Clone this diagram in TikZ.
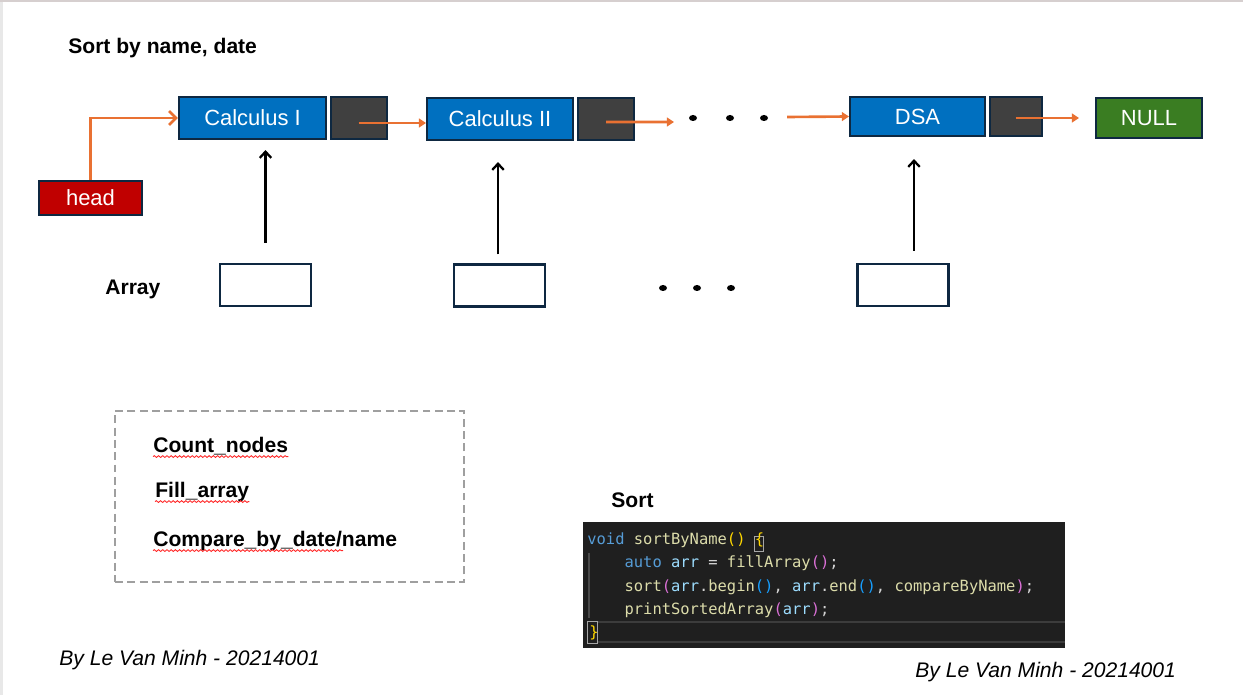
\documentclass[tikz,border=0pt]{standalone}
\usepackage{fontspec}
\setmainfont{Liberation Sans}
\newfontfamily\codefont{DejaVu Sans Mono}
\usepackage{xcolor}
\usetikzlibrary{positioning}
\usetikzlibrary{arrows.meta}
\usetikzlibrary{decorations.pathmorphing}

\definecolor{edge}{HTML}{0E2841}
\definecolor{course}{HTML}{0070C0}
\definecolor{pointer}{HTML}{404040}
\definecolor{headred}{HTML}{C00000}
\definecolor{nullgreen}{HTML}{3A7D22}
\definecolor{link}{HTML}{E97132}
\definecolor{codebg}{HTML}{1F1F1F}
\definecolor{kw}{HTML}{569CD6}
\definecolor{fn}{HTML}{DCDCAA}
\definecolor{var}{HTML}{9CDCFE}
\definecolor{txt}{HTML}{D4D4D4}
\definecolor{brone}{HTML}{FFD700}
\definecolor{brtwo}{HTML}{DA70D6}
\definecolor{brthree}{HTML}{179FFF}

\begin{document}
\begin{tikzpicture}[x=0.02cm, y=-0.02cm,
                    squarednode/.style={rectangle, draw=edge, line width=1.2pt, inner sep=0pt, text=white, font=\fontsize{12.5}{14}\selectfont},
                    datanode/.style={squarednode, fill=course, minimum width=2.94cm, minimum height=0.84cm},
                    ptrnode/.style={squarednode, fill=pointer, minimum width=1.12cm, minimum height=0.84cm},
                    arraynode/.style={rectangle, draw=edge, line width=1.2pt, fill=white, minimum width=1.82cm, minimum height=0.84cm},
                    boldtext/.style={inner sep=0pt, anchor=base west, font=\bfseries\fontsize{12}{14}\selectfont},
                    codeline/.style={inner sep=0pt, anchor=base west, text=txt, font=\codefont\fontsize{8.8}{10}\selectfont},
                    signtext/.style={inner sep=0pt, anchor=base west, font=\itshape\fontsize{12}{14}\selectfont},
                    headlink/.style={draw=link, line width=1.5pt, -{Straight Barb[length=4pt,width=8pt]}},
                    nextlink/.style={draw=link, line width=1.5pt, -{Triangle[length=4pt,width=5pt]}},
                    uparrow/.style={line width=1.3pt, -{Straight Barb[length=3.5pt,width=6.5pt]}},
                    spellwave/.style={draw=red!85!white, line width=0.5pt, decorate, decoration={snake, amplitude=0.5pt, segment length=2.4pt}}
                   ]
\useasboundingbox (0,0) rectangle (1243,695);
\fill[gray!18] (0,0) rectangle (3,695);
\fill[red!8!gray!35] (0,0) rectangle (1243,2);

%Nodes
\node[boldtext] (title) at (68,54) {Sort by name, date};
\node[squarednode, fill=headred, minimum width=2.06cm, minimum height=0.68cm] (head) at (90.5,198) {head};
\node[datanode] (calc1) at (252.5,118) {Calculus I};
\node[ptrnode] (ptr1) [right=0.05cm of calc1] {};
\node[datanode, minimum width=2.92cm] (calc2) at (500,119) {Calculus II};
\node[ptrnode] (ptr2) [right=0.06cm of calc2] {};
\node[datanode, minimum width=2.7cm, minimum height=0.78cm] (dsa) at (917.5,116.5) {DSA};
\node[ptrnode, minimum width=1.04cm, minimum height=0.78cm] (ptr3) [right=0.05cm of dsa] {};
\node[squarednode, fill=nullgreen, minimum width=2.12cm, minimum height=0.8cm] (null) at (1149,118) {NULL};

\node[boldtext] (arraylabel) at (105,295) {Array};
\node[arraynode] (arr1) at (265.5,285) {};
\node[arraynode] (arr2) at (499.5,285.5) {};
\node[arraynode] (arr3) at (903,285) {};

\foreach \x in {693,730,764} \fill (\x,118) ellipse [x radius=0.08cm, y radius=0.06cm];
\foreach \x in {663,697,731} \fill (\x,288) ellipse [x radius=0.08cm, y radius=0.06cm];

\coordinate (p1) at ([yshift=-0.1cm]ptr1.center);
\coordinate (p2) at ([yshift=-0.06cm]ptr2.center);
\coordinate (gap1) at (674,122);
\coordinate (gap2) at (787,117);

% %Lines
\draw[headlink] (head.north) |- (calc1.west);
\draw[nextlink] (p1) -- (p1 -| calc2.west);
\draw[nextlink] (p2) -- (gap1);
\draw[nextlink] (gap2) -- (dsa.west);
\draw[nextlink, shorten >=0.32cm] (ptr3.center |- null.west) -- (null.west);

\draw[uparrow, shorten <=0.4cm, shorten >=0.2cm] (arr1.north) -- (arr1.north |- calc1.south);
\draw[uparrow, shorten <=0.18cm, shorten >=0.42cm] ([xshift=-0.03cm]arr2.north) -- ([xshift=-0.03cm]arr2.north |- calc2.south);
\draw[uparrow, shorten <=0.24cm, shorten >=0.44cm] ([xshift=0.22cm]arr3.north) -- ([xshift=0.22cm]arr3.north |- dsa.south);

%Helper box
\node[draw=gray!75, dashed, dash pattern=on 4.5pt off 2.5pt, line width=1.1pt, minimum width=6.98cm, minimum height=3.42cm] (helpers) at (289.5,496.5) {};
\node[boldtext] (count) at (153,452) {Count\_nodes};
\node[boldtext] (fill) at (155,497) {Fill\_array};
\node[boldtext] (compare) at (153,546) {Compare\_by\_date/name};
\draw[spellwave] ([yshift=-2.6pt]count.base west) -- ([yshift=-2.6pt]count.base east);
\draw[spellwave] ([yshift=-2.6pt]fill.base west) -- ([yshift=-2.6pt]fill.base east);
\draw[spellwave] ([yshift=-2.6pt]compare.base west) -- ++(190,0);

%Code
\node[boldtext] (sortlabel) at (611,507) {Sort};
\node[fill=codebg, minimum width=9.64cm, minimum height=2.52cm, inner sep=0pt] (code) at (824,585) {};
\draw[gray!30!codebg, line width=0.8pt] (598,622) -- (1065,622);
\draw[gray!30!codebg, line width=0.8pt] (598,642) -- (1065,642);
\draw[gray!45!codebg, line width=0.6pt] (589,553) -- (589,618);
\draw[gray!70, line width=0.5pt] (754,536) rectangle (763,551);
\draw[gray!70, line width=0.5pt] (587,621) rectangle (597,643);
\node[codeline] (src1) at (587,544) {\textcolor{kw}{void} \textcolor{fn}{sortByName}\textcolor{brone}{()} \textcolor{brone}{\{}};
\node[codeline] (src2) at (587,567) {\phantom{0000}\textcolor{kw}{auto} \textcolor{var}{arr} = \textcolor{fn}{fillArray}\textcolor{brtwo}{()};};
\node[codeline] (src3) at (587,591) {\phantom{0000}\textcolor{fn}{sort}\textcolor{brtwo}{(}\textcolor{var}{arr}.\textcolor{fn}{begin}\textcolor{brthree}{()}, \textcolor{var}{arr}.\textcolor{fn}{end}\textcolor{brthree}{()}, \textcolor{fn}{compareByName}\textcolor{brtwo}{)};};
\node[codeline] (src4) at (587,614) {\phantom{0000}\textcolor{fn}{printSortedArray}\textcolor{brtwo}{(}\textcolor{var}{arr}\textcolor{brtwo}{)};};
\node[codeline] (src5) at (589,637) {\textcolor{brone}{\}}};

%Footer
\node[signtext] (sign1) at (59,665) {By Le Van Minh - 20214001};
\node[signtext] (sign2) at (915,677) {By Le Van Minh - 20214001};
\end{tikzpicture}
\end{document}
